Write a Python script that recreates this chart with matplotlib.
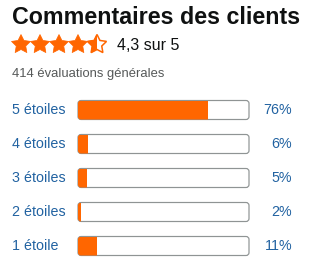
import numpy as np
import matplotlib
matplotlib.use("Agg")
import matplotlib.pyplot as plt
from matplotlib.patches import FancyBboxPatch, Polygon, Rectangle

# ----------------- DATA -----------------

title = "Commentaires des clients"
rating = 4.3
n_ratings = 414
star_labels = ["5 étoiles", "4 étoiles", "3 étoiles", "2 étoiles", "1 étoile"]
percents = [76, 6, 5, 2, 11]

# ----------------- STYLE -----------------

W, H = 324, 271
orange = "#FF6600"
link = "#2162A1"
grey = "#565959"
font = "Liberation Sans"
pt = 0.72  # px -> pt at dpi 100

fig = plt.figure(figsize=(W / 100, H / 100), dpi=100)
ax = fig.add_axes([0, 0, 1, 1])
ax.set_xlim(0, W)
ax.set_ylim(H, 0)
ax.axis("off")

# title + rating line
ax.text(12, 17, title, fontsize=23.2 * pt, fontweight="bold", family=font,
        color="#0F1111", va="center", ha="left")


def star(cx, cy, R, r):
    ang = np.pi / 2 + np.arange(10) * np.pi / 5
    rad = np.where(np.arange(10) % 2 == 0, R, r)
    return np.column_stack([cx + rad * np.cos(ang), cy - rad * np.sin(ang)])


R = 10
star_x0 = 21
star_step = 19
star_y = 44.5
shown = round(rating * 2) / 2
for i in range(5):
    cx = star_x0 + i * star_step
    pts = star(cx, star_y, R, R * 0.5)
    frac = min(max(shown - i, 0), 1)
    if frac >= 1:
        ax.add_patch(Polygon(pts, closed=True, facecolor=orange, edgecolor=orange, lw=0.5))
    else:
        ax.add_patch(Polygon(pts, closed=True, facecolor="white", edgecolor=orange, lw=1.1))
        if frac > 0:
            clip = Rectangle((cx - R, star_y - R), 2 * R * frac, 2 * R, transform=ax.transData)
            p = Polygon(pts, closed=True, facecolor=orange, edgecolor=orange, lw=0.5)
            ax.add_patch(p)
            p.set_clip_path(clip)

ax.text(117, 45, f"{rating:.1f}".replace(".", ",") + " sur 5", fontsize=16 * pt,
        family=font, color="#0F1111", va="center", ha="left")
ax.text(12, 74, f"{n_ratings} évaluations générales", fontsize=13 * pt,
        family=font, color=grey, va="center", ha="left")

# histogram bars
bar_x, bar_w, bar_h = 78, 171, 19
y0, dy = 110, 34
for i, (lab, p) in enumerate(zip(star_labels, percents)):
    y = y0 + i * dy
    ax.text(12, y, lab, fontsize=14.3 * pt, family=font, color=link, va="center", ha="left")
    ax.add_patch(FancyBboxPatch((bar_x, y - bar_h / 2), bar_w, bar_h,
                                boxstyle="round,pad=0,rounding_size=3",
                                facecolor="white", edgecolor="#8F9494", lw=1.2 * pt))
    fill = FancyBboxPatch((bar_x, y - bar_h / 2), bar_w, bar_h,
                          boxstyle="round,pad=0,rounding_size=3",
                          facecolor=orange, edgecolor="none")
    ax.add_patch(fill)
    fill.set_clip_path(Rectangle((bar_x, y - bar_h / 2), bar_w * p / 100, bar_h,
                                 transform=ax.transData))
    ax.text(292, y, f"{p}%", fontsize=14.3 * pt, family=font, color=link, va="center", ha="right")

fig.savefig("out.png", dpi=100)
